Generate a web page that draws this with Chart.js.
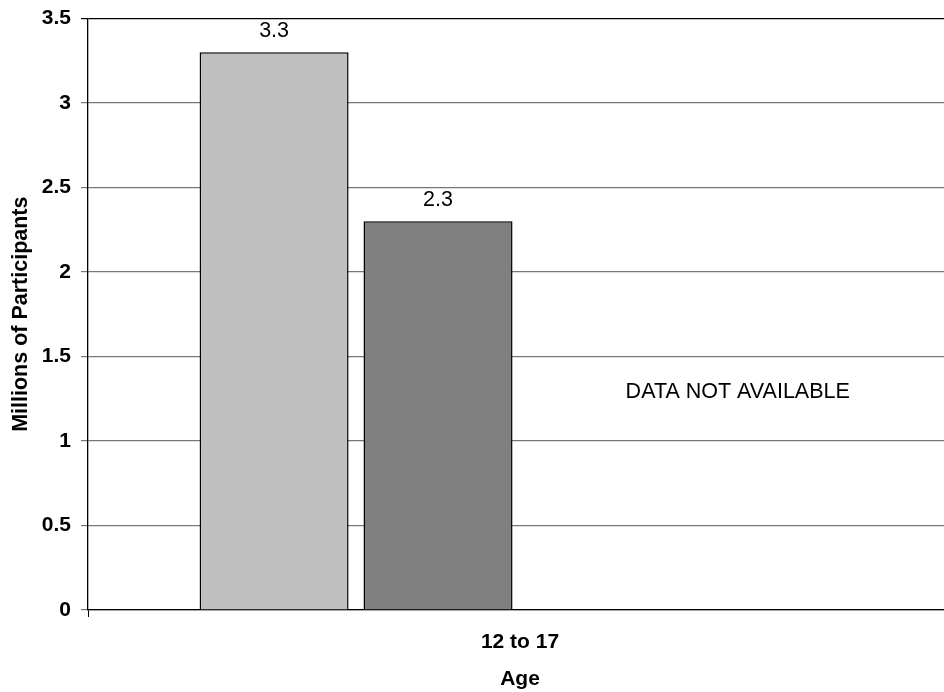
<!DOCTYPE html>
<html>
<head>
<meta charset="utf-8">
<script src="https://cdn.jsdelivr.net/npm/chart.js@4/dist/chart.umd.min.js"></script>
<style>
html,body{margin:0;padding:0;background:#fff;overflow:hidden;width:944px;height:692px;}
canvas{display:block;}
</style>
</head>
<body>
<canvas id="c" width="952" height="692"></canvas>
<script>
const categories = ["12 to 17"];
const seriesNames = ["Series A", "Series B", "Series C", "Series D"];
const seriesA = [3.3];
const seriesB = [2.3];
const seriesC = [null];
const seriesD = [null];
const yTicks = [0, 0.5, 1, 1.5, 2, 2.5, 3, 3.5];
const noteText = "DATA NOT AVAILABLE";
const xTitle = "Age";
const yTitle = "Millions of Participants";

const FONT = "'Liberation Sans', Arial, sans-serif";

const labelPlugin = {
  id: 'valueLabels',
  afterDatasetsDraw(chart) {
    const ctx = chart.ctx;
    ctx.save();
    ctx.font = "21.5px " + FONT;
    ctx.fillStyle = "#000";
    ctx.textAlign = "center";
    ctx.textBaseline = "alphabetic";
    chart.data.datasets.forEach((ds, i) => {
      const meta = chart.getDatasetMeta(i);
      meta.data.forEach((el, j) => {
        const v = ds.data[j];
        if (v === null || v === undefined) return;
        ctx.fillText(String(v), el.x, el.y - 15);
      });
    });
    const a = chart.chartArea;
    const ys = chart.scales.y;
    ctx.textBaseline = "middle";
    ctx.fillText(noteText, a.left + (a.right - a.left) * 0.752, ys.getPixelForValue(1.29));
    ctx.restore();
  }
};

new Chart(document.getElementById('c'), {
  type: 'bar',
  data: {
    labels: categories,
    datasets: [
      {label: seriesNames[0], data: seriesA, backgroundColor: '#C0C0C0', borderColor: '#000', borderWidth: 1.5},
      {label: seriesNames[1], data: seriesB, backgroundColor: '#808080', borderColor: '#000', borderWidth: 1.5},
      {label: seriesNames[2], data: seriesC, backgroundColor: '#9999FF', borderColor: '#000', borderWidth: 1.5},
      {label: seriesNames[3], data: seriesD, backgroundColor: '#993366', borderColor: '#000', borderWidth: 1.5}
    ]
  },
  options: {
    responsive: false,
    animation: false,
    devicePixelRatio: 1,
    categoryPercentage: 0.759,
    barPercentage: 0.909,
    layout: {padding: {top: 18, right: 0, bottom: 0, left: 0}},
    plugins: {legend: {display: false}, tooltip: {enabled: false}},
    scales: {
      x: {
        grid: {display: true, offset: true, drawOnChartArea: false, color: '#000', tickLength: 7, lineWidth: 1},
        border: {display: true, color: '#000', width: 1.3},
        ticks: {font: {family: FONT, size: 21, weight: 'bold'}, color: '#000', padding: 13},
        title: {display: true, text: xTitle, font: {family: FONT, size: 21, weight: 'bold'}, color: '#000', padding: {top: 4, bottom: 0}},
        afterFit(s) { s.height = 82; }
      },
      y: {
        min: 0, max: 3.5,
        afterBuildTicks(s) { s.ticks = yTicks.map(v => ({value: v})); },
        grid: {color: (c) => c.tick && c.tick.value === 3.5 ? '#000' : '#777', lineWidth: 1.2, tickLength: 7},
        border: {display: true, color: '#000', width: 1.3},
        ticks: {font: {family: FONT, size: 21, weight: 'bold', lineHeight: 0.8}, color: '#000', padding: 10,
          callback: (v) => String(v)},
        title: {display: true, text: yTitle, font: {family: FONT, size: 21.5, weight: 'bold'}, color: '#000', padding: {top: 8, bottom: 0}},
        afterFit(s) { s.width = 88; }
      }
    }
  },
  plugins: [labelPlugin]
});
</script>
</body>
</html>
